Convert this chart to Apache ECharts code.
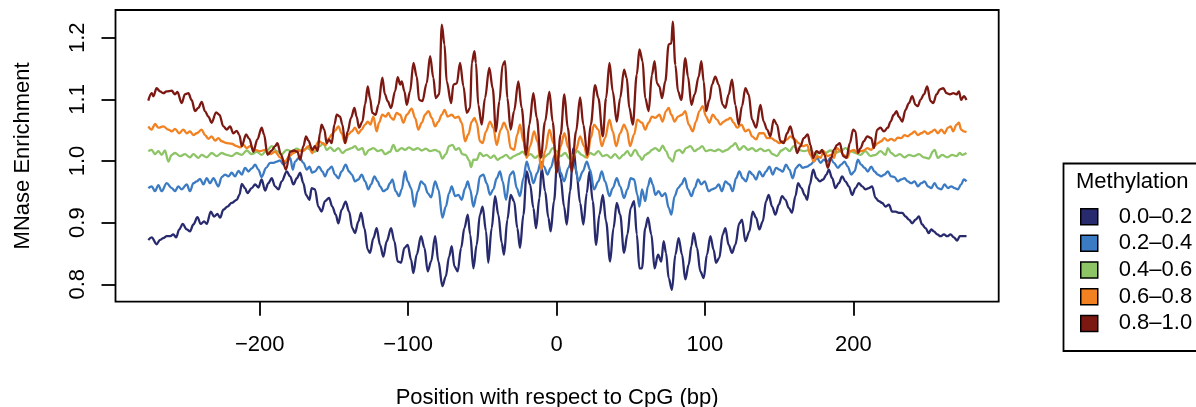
<!DOCTYPE html>
<html>
<head>
<meta charset="utf-8">
<script src="https://cdn.jsdelivr.net/npm/echarts@6/dist/echarts.min.js"></script>
<style>
html,body{margin:0;padding:0;background:#fff;}
#chart{width:1196px;height:407px;}
</style>
</head>
<body>
<div id="chart"></div>
<script>
const legendTitle = "Methylation";
const seriesNames = ["0.0\u20130.2", "0.2\u20130.4", "0.4\u20130.6", "0.6\u20130.8", "0.8\u20131.0"];
const xTicks = [-200, -100, 0, 100, 200];
const yTicks = [0.8, 0.9, 1.0, 1.1, 1.2];

const meth00_02 = [
[-275.1,0.872],[-272.8,0.876],[-269.5,0.865],[-267.2,0.872],[-265.0,0.875],[-262.7,0.878],[-260.5,0.878],[-258.2,0.881],[-256.4,0.876],[-254.2,0.889],
[-251.9,0.898],[-249.2,0.889],[-247.0,0.886],[-244.7,0.897],[-242.0,0.909],[-239.8,0.898],[-237.5,0.902],[-235.7,0.898],[-233.0,0.918],[-230.8,0.910],
[-228.5,0.914],[-226.7,0.908],[-224.5,0.921],[-221.8,0.926],[-218.9,0.932],[-215.5,0.937],[-213.7,0.945],[-212.1,0.963],[-209.9,0.956],[-208.3,0.948],
[-205.4,0.956],[-203.1,0.962],[-200.9,0.957],[-198.7,0.970],[-196.4,0.952],[-194.2,0.964],[-191.9,0.972],[-189.7,0.959],[-187.4,0.954],[-185.2,0.967],
[-181.8,0.983],[-179.5,0.975],[-177.3,0.962],[-175.0,0.972],[-172.8,0.981],[-170.6,0.964],[-168.8,0.945],[-166.5,0.937],
[-165.0,0.956],[-162.8,0.954],[-160.5,0.926],[-158.3,0.918],[-156.0,0.935],[-153.3,0.940],[-151.1,0.926],[-148.8,0.913],[-147.0,0.899],[-144.8,0.921],
[-142.1,0.934],[-139.8,0.918],[-137.6,0.891],[-135.8,0.883],[-133.5,0.902],[-131.7,0.916],[-129.5,0.891],[-127.2,0.856],[-125.7,0.851],[-123.4,0.875],
[-121.2,0.891],[-118.9,0.864],[-116.7,0.845],[-114.4,0.870],[-111.5,0.891],[-109.3,0.870],[-107.0,0.837],[-104.8,0.835],[-102.5,0.859],[-100.3,0.864],
[-98.0,0.840],[-96.5,0.818],[-94.2,0.848],[-91.3,0.878],[-89.0,0.859],[-86.8,0.821],[-84.5,0.837],[-81.8,0.878],[-79.6,0.837],[-76.9,0.797],
[-74.6,0.813],[-72.4,0.845],[-70.6,0.862],[-68.8,0.829],[-66.6,0.821],[-64.3,0.859],[-62.1,0.891],[-59.8,0.913],[-58.2,0.881],[-56.0,0.826],
[-53.8,0.864],[-51.6,0.913],[-49.8,0.926],[-47.5,0.886],[-46.0,0.835],[-43.7,0.891],[-41.4,0.943],[-39.2,0.913],[-36.9,0.867],[-35.4,0.848],
[-33.1,0.905],[-30.9,0.945],[-28.6,0.935],[-26.4,0.891],[-24.6,0.859],[-22.3,0.913],[-20.1,0.983],[-17.8,0.962],[-15.6,0.924],[-13.8,0.891],
[-11.5,0.940],[-10.0,0.989],[-7.7,0.951],[-5.5,0.908],[-3.9,0.886],[-1.7,0.935],[0.6,1.005],[2.8,0.972],[5.1,0.926],[6.9,0.897],
[9.1,0.951],[11.4,1.021],[13.6,0.978],[15.9,0.932],[18.1,0.897],[20.4,0.948],[22.2,0.983],[24.4,0.935],[26.7,0.864],[28.9,0.913],
[31.2,0.945],[33.4,0.902],[36.1,0.837],[38.4,0.891],[40.6,0.932],[42.9,0.913],[45.5,0.851],[47.8,0.881],[50.0,0.924],[52.3,0.935],
[54.1,0.881],[55.9,0.826],
[57.6,0.826],[59.8,0.891],[61.6,0.908],[63.9,0.881],[66.1,0.826],[68.4,0.848],[70.6,0.837],[72.2,0.870],[73.8,0.851],[75.6,0.810],
[77.8,0.791],[80.1,0.848],[82.3,0.875],[84.6,0.848],[86.8,0.808],[89.1,0.832],[90.9,0.862],[92.4,0.883],[94.7,0.859],[96.9,0.821],
[99.2,0.810],[101.4,0.848],[103.7,0.878],[105.9,0.856],[107.5,0.835],[109.7,0.843],[112.0,0.881],[113.8,0.891],[116.0,0.864],[118.3,0.851],
[120.5,0.864],[123.2,0.899],[125.0,0.905],[127.3,0.870],[130.0,0.886],[132.2,0.918],[134.5,0.908],[136.7,0.889],[139.0,0.902],[141.2,0.935],
[143.0,0.945],[145.3,0.926],[147.5,0.913],[149.8,0.929],[152.0,0.943],[154.3,0.937],[156.5,0.924],[158.7,0.916],[161.0,0.943],[162.8,0.964],
[165.0,0.956],[167.3,0.945],
[168.9,0.937],[170.7,0.962],[173.0,0.986],[175.2,0.972],[177.4,0.967],[179.7,0.970],[181.9,0.978],[183.5,0.986],[185.8,0.972],[188.0,0.956],
[190.2,0.964],[192.5,0.975],[194.7,0.967],[197.0,0.959],[199.2,0.945],[201.5,0.956],[203.7,0.964],[206.0,0.959],[208.2,0.954],[210.5,0.956],
[212.7,0.959],[215.0,0.940],[217.2,0.935],[219.5,0.932],[221.7,0.926],[224.0,0.929],[226.2,0.918],[228.5,0.918],[230.7,0.916],[233.0,0.916],
[235.2,0.910],[237.5,0.905],[239.7,0.899],[242.0,0.905],[244.2,0.910],[246.4,0.897],[248.7,0.891],[250.9,0.883],[252.5,0.889],[254.3,0.886],
[256.6,0.881],[258.8,0.878],[261.1,0.881],[263.3,0.878],[265.6,0.881],[267.8,0.876],[270.0,0.871],[271.8,0.878],[274.1,0.878],[276.3,0.878]
];

const meth02_04 = [
[-275.1,0.956],[-272.8,0.959],[-270.6,0.951],[-268.3,0.961],[-266.1,0.951],[-262.7,0.964],[-259.3,0.956],[-257.1,0.951],[-254.9,0.959],[-252.6,0.954],
[-249.2,0.962],[-247.0,0.951],[-244.7,0.964],[-242.5,0.967],[-240.2,0.971],[-238.0,0.962],[-235.7,0.972],[-233.5,0.964],[-231.2,0.972],[-227.9,0.959],
[-225.6,0.974],[-223.4,0.978],[-221.1,0.975],[-218.9,0.981],[-216.6,0.975],[-214.4,0.984],[-212.1,0.978],[-209.9,0.989],[-207.6,0.983],[-205.4,0.988],
[-203.1,0.994],[-200.9,0.986],[-198.7,0.974],[-195.7,0.989],[-193.0,0.997],[-190.8,0.997],[-188.5,0.999],[-186.3,1.001],[-184.0,0.994],[-181.8,0.999],
[-179.5,1.005],[-177.7,0.986],[-176.2,0.999],[-173.3,1.006],[-170.6,0.997],[-168.3,0.986],[-166.5,0.991],
[-164.6,0.981],[-162.8,0.983],[-160.1,0.991],[-157.8,0.983],[-156.0,0.975],[-153.8,0.986],[-151.5,0.991],[-149.3,0.978],[-147.0,0.972],[-144.8,0.983],
[-142.1,0.994],[-139.8,0.983],[-138.0,0.978],[-135.8,0.967],[-133.5,0.970],[-131.3,0.978],[-129.0,0.967],[-126.8,0.954],[-125.0,0.962],[-122.7,0.975],
[-120.5,0.967],[-118.9,0.959],[-116.7,0.951],[-114.4,0.954],[-112.2,0.964],[-110.6,0.970],[-108.4,0.951],[-106.1,0.943],[-104.3,0.954],[-102.1,0.983],
[-100.3,0.967],[-98.0,0.956],[-95.8,0.926],[-93.5,0.951],[-91.3,0.967],[-89.0,0.962],[-86.8,0.948],[-84.5,0.941],[-81.8,0.967],[-79.6,0.954],
[-76.9,0.908],[-74.6,0.926],[-72.4,0.948],[-70.6,0.959],[-68.3,0.943],[-66.1,0.945],[-63.9,0.937],[-61.6,0.956],[-59.8,0.967],[-58.2,0.954],
[-56.0,0.926],
[-53.8,0.945],[-51.6,0.975],[-49.3,0.978],[-47.1,0.964],[-44.8,0.945],[-42.6,0.954],[-40.3,0.972],[-38.1,0.983],[-36.3,0.967],[-34.0,0.937],
[-31.3,0.978],[-29.1,0.983],[-26.8,0.956],[-24.6,0.943],[-22.3,0.972],[-20.1,0.999],[-17.8,0.983],[-15.6,0.964],[-12.9,0.981],[-10.6,0.999],
[-8.4,0.991],[-6.1,0.978],[-3.9,0.989],[-1.0,1.010],[0.6,1.005],[2.8,0.981],[5.1,0.967],[8.0,0.989],[10.3,1.002],[12.5,0.991],
[14.8,0.967],[17.7,0.983],[20.4,0.999],[22.6,0.986],[25.3,0.954],[28.2,0.967],[30.5,0.983],[32.7,0.967],[35.7,0.943],[37.9,0.956],
[40.6,0.972],[42.9,0.959],[45.5,0.940],[47.8,0.954],[50.0,0.972],[52.3,0.970],[54.5,0.945],[55.9,0.926],
[57.6,0.954],[59.8,0.935],[61.6,0.959],[63.2,0.972],[64.8,0.962],[66.6,0.945],[68.8,0.951],[71.1,0.943],[73.3,0.948],[75.6,0.924],
[77.4,0.913],[79.6,0.943],[81.9,0.956],[84.1,0.962],[86.4,0.972],[88.6,0.954],[90.9,0.943],[93.1,0.956],[95.4,0.970],[97.6,0.962],
[99.9,0.967],[102.5,0.951],[104.8,0.954],[107.0,0.956],[109.3,0.962],[111.5,0.951],[113.8,0.967],[116.5,0.962],[118.7,0.951],[121.0,0.972],
[123.2,0.983],[125.5,0.972],[127.7,0.967],[130.0,0.983],[132.2,0.978],[134.5,0.970],[136.7,0.983],[139.0,0.975],[141.2,0.983],[143.5,0.991],
[145.7,0.978],[148.0,0.989],[150.2,0.986],[152.4,0.983],[154.7,0.994],[156.9,0.986],[159.2,0.972],[161.4,0.989],[163.7,0.994],[165.9,0.989],
[168.9,0.991],[171.1,0.994],[173.4,0.999],[175.6,1.005],[177.9,0.997],[180.1,1.002],[182.4,0.999],[184.6,1.005],[186.9,0.997],[189.6,0.989],
[191.8,0.994],[194.1,0.999],[196.3,0.991],[198.6,0.978],[200.8,0.983],[203.1,1.002],[205.3,0.994],[207.6,0.989],[209.8,0.983],[212.1,0.991],
[214.3,0.983],[216.5,0.978],[218.8,0.975],[221.0,0.978],[223.3,0.983],[225.5,0.975],[227.8,0.974],[230.0,0.967],[232.3,0.970],[234.5,0.972],
[236.8,0.967],[239.0,0.964],[241.3,0.967],[243.5,0.959],[245.8,0.964],[248.0,0.967],[250.3,0.959],[252.5,0.956],[254.8,0.964],[257.0,0.956],
[259.3,0.954],[261.5,0.962],[263.8,0.956],[266.0,0.959],[268.3,0.956],[270.5,0.954],[272.7,0.962],[274.5,0.970],[276.3,0.967]
];

const meth04_06 = [
[-275.1,1.016],[-272.8,1.018],[-270.6,1.011],[-268.3,1.016],[-266.1,1.010],[-263.9,1.017],[-261.6,0.999],[-259.3,1.010],[-257.1,1.013],[-253.7,1.008],
[-250.4,1.011],[-247.0,1.006],[-244.7,1.011],[-241.4,1.005],[-239.1,1.010],[-235.7,1.006],[-232.4,1.013],[-229.0,1.008],[-225.6,1.013],[-222.2,1.010],
[-218.9,1.008],[-215.5,1.013],[-212.1,1.010],[-208.8,1.017],[-205.4,1.011],[-202.0,1.015],[-198.7,1.010],[-195.3,1.017],[-191.9,1.024],[-188.5,1.016],
[-185.2,1.011],[-181.8,1.018],[-178.4,1.016],[-175.0,1.020],[-171.7,1.016],[-168.3,1.021],
[-162.8,1.015],[-159.4,1.024],[-157.1,1.029],[-154.9,1.018],[-152.6,1.022],[-149.7,1.016],[-147.0,1.021],[-144.3,1.013],[-141.4,1.018],[-138.0,1.021],
[-135.8,1.024],[-133.5,1.018],[-130.8,1.021],[-129.0,1.010],[-126.3,1.018],[-123.4,1.021],[-120.5,1.016],[-117.8,1.018],[-115.6,1.011],[-112.2,1.015],
[-109.9,1.026],[-107.7,1.016],[-104.3,1.021],[-102.1,1.018],[-99.4,1.022],[-96.4,1.018],[-93.5,1.021],[-90.8,1.017],[-88.1,1.020],[-85.2,1.016],
[-81.8,1.018],[-79.1,1.015],[-76.9,1.004],[-74.6,1.011],[-72.4,1.024],[-70.1,1.026],[-67.9,1.018],[-65.7,1.021],[-63.4,1.011],[-61.2,1.010],
[-58.9,1.001],[-57.6,0.990],[-56.0,1.002],
[-53.8,1.002],[-51.6,1.013],[-49.3,1.008],[-47.1,1.010],[-44.4,1.005],[-42.1,1.009],[-39.9,1.002],[-37.0,1.006],[-34.0,1.010],[-31.3,1.004],
[-28.6,1.008],[-25.7,1.011],[-22.8,1.015],[-20.1,1.008],[-17.4,1.011],[-14.5,1.005],[-11.5,1.010],[-8.4,1.006],[-5.5,1.011],[-2.6,1.021],
[0.1,1.016],[2.8,1.008],[5.8,1.013],[8.7,1.004],[11.4,1.010],[14.1,1.016],[17.0,1.010],[19.9,1.006],[22.6,1.013],[25.3,1.010],
[28.2,1.016],[31.2,1.008],[33.9,1.010],[36.6,1.005],[39.5,1.011],[42.4,1.004],[45.1,1.010],[47.8,1.016],[50.0,1.008],[53.0,1.018],
[55.9,1.008],
[57.6,1.002],[59.8,1.010],[62.1,1.013],[64.3,1.018],[66.6,1.021],[69.3,1.016],[71.5,1.025],[73.8,1.016],[76.0,1.005],[78.3,0.999],
[80.5,1.016],[82.8,1.018],[85.0,1.013],[87.3,1.021],[90.2,1.024],[93.1,1.016],[95.8,1.020],[98.1,1.024],[100.8,1.016],[103.7,1.018],
[106.6,1.016],[109.3,1.019],[112.0,1.015],[114.9,1.018],[118.3,1.024],[120.5,1.029],[123.2,1.018],[126.2,1.024],[129.1,1.018],[131.8,1.021],
[134.5,1.016],[137.4,1.020],[140.3,1.016],[143.0,1.018],[145.7,1.011],[148.6,1.008],[151.5,1.017],[154.3,1.021],[157.0,1.016],[159.9,1.024],
[163.2,1.018],[166.6,1.016],
[171.1,1.018],[174.5,1.010],[177.9,1.016],[181.3,1.013],[184.6,1.017],[188.0,1.013],[191.4,1.016],[194.7,1.021],[198.1,1.016],[201.5,1.013],
[204.9,1.010],[208.2,1.016],[211.6,1.008],[215.0,1.010],[218.3,1.016],[221.7,1.010],[223.3,1.021],[225.5,1.013],[228.5,1.008],[231.4,1.011],
[234.5,1.006],[237.5,1.010],[240.8,1.008],[244.2,1.011],[247.6,1.006],[250.9,1.004],[253.9,1.016],[254.8,1.018],[257.0,1.005],[259.9,1.010],
[263.3,1.006],[266.7,1.010],[269.6,1.008],[271.8,1.013],[273.4,1.010],[276.3,1.013]
];

const meth06_08 = [
[-275.1,1.056],[-272.8,1.051],[-270.6,1.060],[-268.3,1.054],[-265.0,1.056],[-261.6,1.051],[-259.3,1.048],[-257.1,1.052],[-254.2,1.045],[-251.5,1.051],
[-249.2,1.045],[-247.0,1.048],[-244.7,1.042],[-242.5,1.045],[-239.1,1.051],[-236.9,1.042],[-234.6,1.036],[-232.4,1.040],[-230.1,1.033],[-227.9,1.037],
[-225.6,1.032],[-222.2,1.029],[-218.9,1.028],[-215.5,1.024],[-213.3,1.022],[-211.0,1.026],[-208.8,1.021],[-206.5,1.024],[-203.1,1.018],[-199.8,1.016],
[-196.4,1.018],[-193.0,1.011],[-189.7,1.015],[-186.3,1.006],[-182.9,0.999],[-180.0,1.008],[-177.3,1.013],[-173.9,1.017],[-170.6,1.016],[-167.2,1.024],
[-164.6,1.013],[-162.8,1.024],[-160.1,1.032],[-157.8,1.029],[-155.6,1.026],[-153.3,1.037],[-151.5,1.043],[-149.3,1.049],[-147.0,1.056],[-144.8,1.045],
[-142.5,1.029],[-140.3,1.043],[-138.0,1.048],[-135.8,1.054],[-133.5,1.045],[-131.3,1.051],[-129.0,1.059],[-127.2,1.064],[-125.5,1.059],[-123.4,1.072],
[-121.2,1.048],[-119.6,1.062],[-117.4,1.075],[-115.1,1.072],[-113.3,1.078],[-111.5,1.070],[-109.9,1.067],[-107.7,1.078],[-105.4,1.075],[-103.2,1.062],
[-100.9,1.075],[-97.6,1.085],[-95.3,1.070],[-93.1,1.051],[-90.8,1.062],[-88.6,1.075],[-86.3,1.081],[-84.1,1.070],[-81.8,1.056],[-79.6,1.064],
[-77.3,1.075],[-75.5,1.083],[-73.3,1.072],[-70.6,1.075],[-68.3,1.070],[-66.1,1.072],[-63.9,1.062],[-61.6,1.032],[-59.4,1.043],[-57.1,1.064],
[-55.3,1.070],
[-53.8,1.062],[-51.6,1.032],[-49.8,1.029],[-47.5,1.048],[-44.8,1.064],[-42.6,1.054],[-40.3,1.026],[-37.6,1.051],[-35.4,1.062],[-33.1,1.051],
[-30.9,1.021],[-28.6,1.018],[-26.4,1.043],[-24.6,1.059],[-22.3,1.032],[-20.1,1.005],[-17.8,1.024],[-15.1,1.048],[-12.9,1.032],[-10.2,0.986],
[-7.7,1.016],[-4.8,1.051],[-2.1,1.029],[0.6,0.999],[2.8,1.024],[5.3,1.045],[8.0,1.021],[10.3,0.999],[13.2,1.018],[15.9,1.040],
[18.6,1.024],[20.8,1.005],[23.1,1.037],[25.3,1.059],[28.2,1.051],[30.5,1.024],[32.7,1.037],[35.7,1.067],[37.9,1.048],[40.2,1.024],
[42.9,1.045],[45.5,1.059],[47.3,1.051],[49.6,1.024],[52.3,1.043],[54.5,1.067],
[57.6,1.062],[59.8,1.051],[62.1,1.062],[64.3,1.072],[66.6,1.070],[69.3,1.075],[71.5,1.064],[73.8,1.081],[75.6,1.086],[77.4,1.075],
[79.6,1.064],[81.9,1.072],[84.6,1.075],[86.8,1.081],[89.1,1.059],[91.8,1.048],[94.0,1.064],[96.3,1.081],[98.5,1.089],[100.8,1.072],
[103.0,1.062],[105.3,1.075],[108.2,1.067],[110.4,1.059],[112.7,1.064],[114.9,1.067],[117.2,1.070],[119.4,1.062],[121.7,1.054],[124.6,1.059],
[127.3,1.048],[129.5,1.051],[131.8,1.040],[134.5,1.035],[136.7,1.045],[139.6,1.045],[141.9,1.037],[144.8,1.037],[147.5,1.033],[150.2,1.029],
[153.1,1.032],[155.4,1.035],[157.6,1.040],[160.5,1.035],[163.2,1.029],[165.9,1.024],
[168.9,1.026],[171.1,1.010],[173.4,0.999],[175.6,1.008],[177.9,1.005],[180.1,1.016],[182.4,1.008],[185.1,1.010],[186.9,1.005],[189.1,1.021],
[191.4,1.016],[193.6,1.010],[195.9,1.005],[198.1,1.016],[200.4,1.018],[202.6,1.013],[204.9,1.016],[207.1,1.017],[209.4,1.021],[212.1,1.018],
[214.3,1.024],[216.5,1.029],[218.8,1.032],[221.0,1.037],[223.3,1.033],[225.5,1.036],[227.8,1.033],[230.0,1.038],[232.3,1.037],[234.5,1.042],
[236.8,1.040],[239.0,1.044],[241.3,1.048],[243.5,1.042],[245.8,1.045],[248.0,1.048],[250.3,1.044],[252.5,1.047],[254.8,1.051],[257.0,1.045],
[259.3,1.051],[261.5,1.045],[263.8,1.054],[265.6,1.056],[267.3,1.048],[269.6,1.059],[271.2,1.062],[272.7,1.051],[274.5,1.048],[276.3,1.047]
];

const meth08_10 = [
[-275.1,1.098],[-272.8,1.110],[-271.7,1.105],[-269.5,1.118],[-267.2,1.113],[-265.0,1.110],[-262.7,1.113],[-259.3,1.114],[-257.1,1.108],[-255.5,1.112],
[-252.6,1.094],[-250.4,1.108],[-248.1,1.110],[-245.9,1.099],[-243.6,1.081],[-241.4,1.086],[-239.1,1.096],[-236.9,1.081],[-234.6,1.072],[-232.4,1.062],
[-229.4,1.079],[-227.2,1.075],[-224.5,1.056],[-222.2,1.051],[-220.0,1.056],[-217.8,1.045],[-215.5,1.049],[-213.7,1.042],[-212.1,1.024],[-209.2,1.043],
[-207.0,1.036],[-204.3,1.015],[-201.6,1.035],[-198.7,1.054],[-197.1,1.043],[-194.8,1.010],[-191.9,1.017],[-189.7,1.024],[-188.1,1.029],[-185.8,1.011],
[-182.3,0.986],[-179.5,1.015],[-176.8,1.017],[-174.6,1.015],[-172.8,1.002],[-170.6,1.024],[-168.8,1.040],[-167.2,1.033],
[-164.6,1.018],[-162.8,1.024],[-161.0,1.016],[-159.4,1.045],[-158.3,1.059],[-156.5,1.051],[-154.9,1.029],[-153.3,1.035],[-151.5,1.029],[-149.7,1.059],
[-148.1,1.075],[-145.9,1.072],[-144.3,1.059],[-142.5,1.029],[-140.7,1.048],[-138.5,1.070],[-136.2,1.086],[-134.7,1.072],[-133.1,1.054],[-130.8,1.064],
[-129.0,1.092],[-127.2,1.121],[-125.7,1.102],[-124.1,1.078],[-121.9,1.075],[-120.0,1.091],[-117.4,1.135],[-115.6,1.108],[-113.8,1.097],[-111.5,1.086],
[-108.8,1.113],[-107.0,1.136],[-105.4,1.124],[-104.3,1.129],[-102.5,1.113],[-100.9,1.091],[-98.7,1.113],[-96.4,1.159],[-94.2,1.137],[-92.6,1.099],
[-90.4,1.097],[-87.5,1.126],[-85.2,1.170],[-83.0,1.135],[-81.4,1.102],[-79.1,1.108],[-77.3,1.221],[-75.5,1.189],[-74.0,1.129],[-71.0,1.094],
[-69.5,1.124],[-67.2,1.126],[-65.0,1.159],[-62.7,1.121],[-60.5,1.078],[-58.2,1.086],[-57.1,1.159],[-55.3,1.178],
[-54.3,1.159],[-52.7,1.091],[-50.4,1.059],[-48.2,1.102],[-45.3,1.151],[-43.0,1.118],[-40.8,1.048],[-38.5,1.097],[-36.3,1.156],[-34.7,1.162],
[-33.1,1.102],[-30.9,1.051],[-28.6,1.081],[-25.7,1.129],[-23.5,1.086],[-20.5,1.010],[-18.3,1.059],[-15.6,1.110],[-13.3,1.070],[-10.6,1.005],
[-7.7,1.064],[-4.8,1.112],[-2.6,1.064],[0.1,0.981],[2.8,1.043],[5.3,1.108],[7.6,1.054],[10.3,0.983],[13.2,1.048],[15.9,1.103],
[18.1,1.059],[20.8,1.010],[23.1,1.059],[26.0,1.123],[28.2,1.102],[31.2,1.040],[33.4,1.102],[35.7,1.159],[37.9,1.113],[40.6,1.064],
[42.9,1.102],[45.5,1.148],[47.3,1.135],[49.1,1.086],[51.4,1.059],[54.1,1.140],[55.9,1.181],
[58.0,1.162],[59.8,1.102],[62.1,1.081],[64.3,1.140],[66.1,1.162],[67.7,1.126],[69.3,1.121],[71.1,1.102],[73.3,1.129],[75.6,1.189],
[77.4,1.191],[78.3,1.226],[80.1,1.156],[81.9,1.113],[84.1,1.099],[86.8,1.167],[88.6,1.137],[90.9,1.091],[93.1,1.108],[95.8,1.137],
[97.6,1.162],[99.2,1.129],[100.8,1.081],[103.0,1.099],[104.8,1.124],[107.0,1.137],[109.3,1.124],[112.0,1.091],[113.8,1.086],[116.0,1.108],
[118.3,1.132],[120.5,1.091],[122.8,1.059],[125.0,1.089],[127.3,1.118],[129.5,1.108],[131.8,1.067],[134.5,1.054],[137.4,1.091],[139.6,1.064],
[141.9,1.051],[144.1,1.040],[146.4,1.067],[148.6,1.059],[150.9,1.032],[153.1,1.029],[155.4,1.045],[157.6,1.056],[159.9,1.037],[162.1,1.013],
[164.4,1.024],[166.6,1.037],
[169.3,1.043],[171.1,1.026],[172.9,1.005],[175.2,1.016],[177.4,1.013],[179.0,1.018],[180.6,1.010],[182.8,0.989],[185.1,1.005],[186.9,1.018],
[189.1,1.026],[190.9,1.029],[193.2,1.008],[195.4,1.005],[197.7,1.029],[199.9,1.051],[201.5,1.048],[203.1,1.013],[204.9,1.021],[207.1,1.032],
[209.4,1.040],[212.1,1.037],[213.9,1.021],[216.1,1.051],[218.3,1.054],[220.6,1.048],[223.3,1.054],[225.1,1.064],[227.3,1.075],[229.1,1.081],
[230.7,1.072],[233.0,1.064],[235.2,1.083],[237.5,1.094],[239.7,1.105],[242.0,1.091],[243.5,1.089],[245.3,1.099],[247.6,1.108],[249.8,1.121],
[252.1,1.097],[253.9,1.094],[256.1,1.108],[258.4,1.116],[260.6,1.118],[262.9,1.110],[265.1,1.108],[267.4,1.110],[269.6,1.108],[271.2,1.113],
[272.7,1.099],[274.5,1.105],[276.3,1.099]
];

const seriesData = [meth00_02, meth02_04, meth04_06, meth06_08, meth08_10];
const seriesColors = ["#282A6E", "#3B7BC3", "#8DC466", "#F28121", "#7C1812"];

const FONT = "'Liberation Sans', Arial, Helvetica, sans-serif";
const chart = echarts.init(document.getElementById('chart'), null, {renderer: 'canvas'});

const option = {
  animation: false,
  backgroundColor: '#ffffff',
  grid: {
    left: 115.5, top: 10, width: 883.2, height: 291.7,
    outerBoundsMode: 'none', containLabel: false,
    show: true, borderColor: '#000', borderWidth: 1.8, backgroundColor: 'transparent'
  },
  xAxis: {
    type: 'value', min: -297.2, max: 298.0,
    axisLine: {show: false, onZero: false},
    splitLine: {show: false},
    axisTick: {show: true, inside: false, length: 14, customValues: xTicks, lineStyle: {color: '#000', width: 1.8}},
    axisLabel: {
      customValues: xTicks, margin: 32, color: '#000', fontSize: 22, fontFamily: FONT,
      formatter: v => String(v).replace('-', '\u2212')
    },
    name: 'Position with respect to CpG (bp)', nameLocation: 'middle', nameGap: 85,
    nameTextStyle: {color: '#000', fontSize: 22, fontFamily: FONT}
  },
  yAxis: {
    type: 'value', min: 0.7718, max: 1.2449,
    axisLine: {show: false, onZero: false},
    splitLine: {show: false},
    axisTick: {show: true, inside: false, length: 14, customValues: yTicks, lineStyle: {color: '#000', width: 1.8}},
    axisLabel: {
      customValues: yTicks, rotate: 90, margin: 27, color: '#000', fontSize: 22, fontFamily: FONT,
      formatter: v => Number(v).toFixed(1)
    },
    name: 'MNase Enrichment', nameLocation: 'middle', nameGap: 82, nameRotate: 90,
    nameTextStyle: {color: '#000', fontSize: 22, fontFamily: FONT}
  },
  legend: {
    orient: 'vertical', left: 1080, top: 205.7, padding: 0,
    itemWidth: 17, itemHeight: 16, itemGap: 4.67,
    icon: 'rect',
    itemStyle: {borderColor: '#000', borderWidth: 1.5},
    textStyle: {color: '#000', fontSize: 22, fontFamily: FONT, lineHeight: 22, padding: [0, 0, 0, 16]},
    data: seriesNames,
    selectedMode: false
  },
  graphic: [
    {type: 'rect', left: 1061, top: 161, shape: {x: 0, y: 0, width: 200, height: 187.5},
     style: {fill: 'none', stroke: '#000', lineWidth: 1.8}, silent: true},
    {type: 'text', left: 1076, top: 171, style: {text: legendTitle, fill: '#000', font: '22px ' + FONT}, silent: true}
  ],
  series: seriesNames.map((name, i) => ({
    name: name, type: 'line', data: seriesData[i],
    showSymbol: false, symbol: 'none', smooth: 0.35, smoothMonotone: 'x',
    lineStyle: {color: seriesColors[i], width: 2.3},
    itemStyle: {color: seriesColors[i]},
    emphasis: {disabled: true}
  }))
};
chart.setOption(option);
</script>
</body>
</html>
